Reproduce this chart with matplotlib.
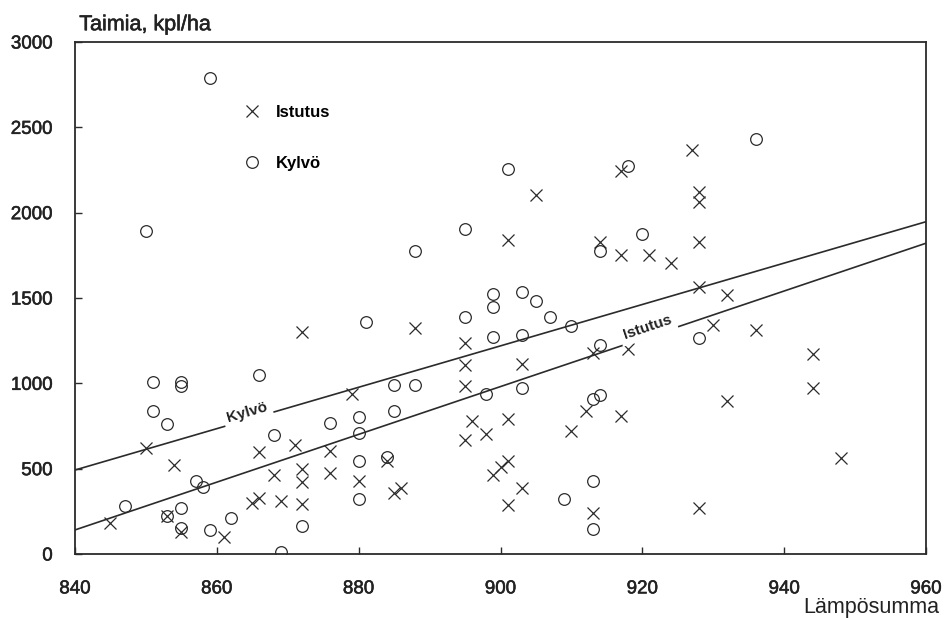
import numpy as np
import matplotlib
matplotlib.use("Agg")
import matplotlib.pyplot as plt
import matplotlib.patheffects as pe

plt.rcParams["font.family"] = ["Liberation Sans", "DejaVu Sans"]

# Istutus (planted) observations: heat sum vs seedlings per ha
istutus_x = [850, 854, 845, 853, 855, 861, 865, 866, 866, 868, 869, 871,
             872, 872, 872, 872, 876, 876, 879, 880, 884, 885, 886, 888,
             895, 895, 895, 895, 896, 898, 899, 900, 901, 901, 901, 901,
             903, 903, 905, 910, 912, 913, 913, 914, 917, 917, 917, 918,
             921, 924, 927, 928, 928, 928, 928, 928, 930, 932, 932, 936,
             944, 944, 948]
istutus_y = [620, 520, 180, 220, 130, 100, 300, 330, 595, 460, 310, 640,
             1300, 500, 420, 295, 605, 475, 935, 425, 545, 355, 385, 1325,
             1235, 1110, 985, 670, 780, 705, 460, 510, 545, 790, 285, 1840,
             1115, 385, 2105, 720, 840, 1180, 240, 1830, 2245, 1750, 810, 1200,
             1750, 1705, 2365, 2120, 2065, 1830, 1565, 270, 1340, 1520, 895, 1310,
             1170, 970, 565]

# Kylvö (sown) observations
kylvo_x = [859, 850, 851, 851, 853, 855, 855, 866, 857, 858, 847, 853,
           855, 855, 859, 862, 869, 868, 872, 876, 880, 880, 880, 880,
           881, 884, 885, 885, 888, 888, 895, 895, 898, 899, 899, 899,
           901, 903, 903, 903, 905, 907, 909, 910, 913, 913, 913, 914,
           914, 914, 918, 920, 928, 936]
kylvo_y = [2790, 1890, 1010, 840, 760, 1005, 985, 1050, 430, 390, 280, 220,
           270, 155, 140, 210, 10, 700, 165, 765, 800, 710, 545, 320,
           1360, 570, 990, 835, 990, 1775, 1905, 1390, 940, 1525, 1450, 1270,
           2255, 1535, 1285, 970, 1485, 1390, 325, 1335, 910, 430, 145, 930,
           1225, 1775, 2275, 1875, 1265, 2430]

# fitted regression lines, read at the ends of the x range
fit_x = [840, 960]
kylvo_fit = [492, 1947]
istutus_fit = [141, 1821]

ink = "#2b2b2b"
txt = "#222222"
heavy = [pe.withStroke(linewidth=0.4, foreground=txt)]

fig = plt.figure(figsize=(9.44, 6.18), dpi=100)
ax = fig.add_axes([75 / 944, 64 / 618, 851 / 944, 512 / 618])

ax.plot(fit_x, kylvo_fit, color=ink, lw=1.2, zorder=2)
ax.plot(fit_x, istutus_fit, color=ink, lw=1.2, zorder=2)

ax.plot(istutus_x, istutus_y, ls="none", marker="x", ms=8.4, mew=0.9,
        color=ink, label="Istutus", zorder=3)
ax.plot(kylvo_x, kylvo_y, ls="none", marker="o", ms=8.4, mew=0.9,
        mfc="none", mec=ink, label="Kylvö", zorder=3)

ax.set_xlim(840, 960)
ax.set_ylim(0, 3000)
ax.set_xticks(np.arange(840, 961, 20))
ax.set_yticks(np.arange(0, 3001, 500))
ax.tick_params(direction="in", length=5, width=1, colors=ink,
               labelsize=13.5, labelcolor=txt)
ax.tick_params(axis="x", pad=19)
ax.tick_params(axis="y", pad=16)
for lab in ax.get_xticklabels() + ax.get_yticklabels():
    lab.set_path_effects(heavy)
for s in ax.spines.values():
    s.set_linewidth(1.3)
    s.set_color(ink)

# labels on the regression lines, rotated to follow them
def line_angle(ys):
    p = ax.transData.transform(np.column_stack([fit_x, ys]))
    return np.degrees(np.arctan2(p[1, 1] - p[0, 1], p[1, 0] - p[0, 0]))

box = dict(facecolor="white", edgecolor="none", pad=3)
ax.text(864.3, 832, "Kylvö", rotation=line_angle(kylvo_fit), ha="center",
        va="center", fontsize=11, fontweight="bold", color=txt,
        bbox=box, rotation_mode="anchor", zorder=4)
ax.text(920.7, 1330, "Istutus", rotation=line_angle(istutus_fit), ha="center",
        va="center", fontsize=11, fontweight="bold", color=txt,
        bbox=box, rotation_mode="anchor", zorder=4)

ax.text(0.005, 1.023, "Taimia, kpl/ha", transform=ax.transAxes, ha="left",
        va="baseline", fontsize=15.5, color=txt, path_effects=heavy)
ax.text(1.015, -0.116, "Lämpösumma", transform=ax.transAxes, ha="right",
        va="baseline", fontsize=15.5, color=txt)

ax.legend(loc="upper left", bbox_to_anchor=(0.183, 0.893), frameon=False,
          borderpad=0, handlelength=1.5, handletextpad=0.7, labelspacing=2.15,
          prop={"weight": "bold", "size": 12})

fig.savefig("out.png", dpi=100)
